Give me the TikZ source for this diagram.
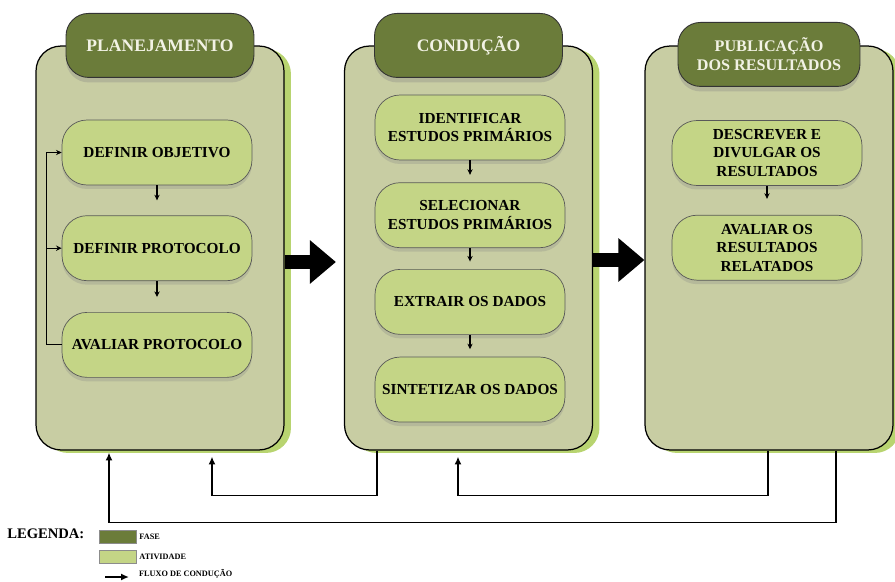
\documentclass[tikz,border=0pt]{standalone}
\usepackage{fontspec}
\setmainfont{Liberation Serif}
\usepackage{tikz}
\usetikzlibrary{positioning}
\usetikzlibrary{shadows}
\usetikzlibrary{arrows.meta}
\definecolor{fasecor}{RGB}{107,124,58}
\definecolor{fasetexto}{RGB}{242,242,228}
\definecolor{atividadecor}{RGB}{196,213,134}
\definecolor{painelcor}{RGB}{200,205,163}
\definecolor{sombracor}{RGB}{184,212,112}
\tikzset{painel node/.style={rectangle,rounded corners=0.5cm,fill=painelcor,draw=black,line width=0.7pt,minimum width=4.96cm,minimum height=8.08cm,
            general shadow={fill=sombracor,shadow xshift=0.14cm,shadow yshift=-0.06cm}},
            }
\tikzset{fase node/.style={rectangle,rounded corners=0.45cm,fill=fasecor,draw=black!80,line width=0.5pt,minimum width=3.76cm,minimum height=1.28cm,
            text=fasetexto,font=\bfseries\fontsize{10}{11.5}\selectfont,align=center,
            drop shadow={opacity=0.3,shadow xshift=0pt,shadow yshift=-0.1cm}},
            }
\tikzset{atividade node/.style={rectangle,rounded corners=0.5cm,fill=atividadecor,draw=black!65,line width=0.4pt,minimum width=3.8cm,minimum height=1.3cm,
            inner sep=2pt,font=\bfseries\fontsize{8.7}{10.6}\selectfont,align=center,
            drop shadow={opacity=0.25,shadow xshift=0pt,shadow yshift=-0.08cm}},
            }
\tikzset{fluxo/.style={-{Stealth[length=3.2pt,width=3pt]},line width=0.6pt},
            retorno/.style={-{Latex[length=4.5pt,width=4pt]},line width=0.9pt},
            grande seta/.style={line width=0.28cm,-{Triangle[length=0.52cm,width=0.84cm]}},
            legenda swatch/.style={rectangle,draw=black!45,line width=0.4pt,minimum width=0.74cm,minimum height=0.26cm,inner sep=0pt},
            legenda texto/.style={font=\bfseries\fontsize{4.7}{5.5}\selectfont,inner sep=1pt},
            }

\begin{document}
\begin{tikzpicture}[x=0.02cm,y=-0.02cm]
        \useasboundingbox (0,0) rectangle (895,581);

        % fases
        \node[painel node] (plan) at (160,248) {};
        \node[painel node] (cond) at (468.5,248) {};
        \node[painel node] (pub) at (769,248) {};
        \node[fase node] (hplan) at (plan.north) {PLANEJAMENTO};
        \node[fase node] (hcond) at (cond.north) {CONDUÇÃO};
        \node[fase node,minimum width=3.64cm,font=\bfseries\fontsize{9.2}{11}\selectfont] (hpub) [yshift=-0.18cm] at (pub.north) {PUBLICAÇÃO\\DOS RESULTADOS};

        % atividades
        \node[atividade node] (obj) at (157,152.5) {DEFINIR OBJETIVO};
        \node[atividade node] (prot) [below = 0.6cm of obj] {DEFINIR PROTOCOLO};
        \node[atividade node] (aval) [below = 0.62cm of prot] {AVALIAR PROTOCOLO};

        \node[atividade node] (ident) at (470,127.5) {IDENTIFICAR\\ESTUDOS PRIMÁRIOS};
        \node[atividade node] (selec) [below = 0.44cm of ident] {SELECIONAR\\ESTUDOS PRIMÁRIOS};
        \node[atividade node] (extr) [below = 0.42cm of selec] {EXTRAIR OS DADOS};
        \node[atividade node] (sint) [below = 0.44cm of extr] {SINTETIZAR OS DADOS};

        \node[atividade node] (desc) at (767,153) {DESCREVER E\\DIVULGAR OS\\RESULTADOS};
        \node[atividade node] (avres) [below = 0.58cm of desc] {AVALIAR OS\\RESULTADOS\\RELATADOS};

        % fluxo dentro das fases
        \path[draw,fluxo,shorten >=0.3cm]
        (obj) edge (prot)
        (prot) edge (aval);
        \path[draw,fluxo,shorten >=0.15cm]
        (ident) edge (selec)
        (selec) edge (extr)
        (extr) edge (sint);
        \draw[fluxo,shorten >=0.32cm] (desc) -- (avres);
        \draw[fluxo] (aval.west) -| ([xshift=-0.3cm]obj.west) -- (obj.west);
        \draw[fluxo] ([xshift=-0.3cm]prot.west) -- (prot.west);

        % setas entre fases
        \draw[grande seta,shorten >=0.16cm] ([yshift=-0.28cm]plan.east) -- ([yshift=-0.28cm]cond.west);
        \draw[grande seta] ([yshift=-0.24cm]cond.east) -- ([yshift=-0.24cm]pub.west);

        % retornos
        \draw[retorno,shorten >=0.12cm] ([xshift=-1.83cm]cond.south) -- ++(0,45) -| ([xshift=1.04cm]plan.south);
        \draw[retorno,shorten >=0.12cm] ([xshift=-0.02cm]pub.south) -- ++(0,45) -| ([xshift=-0.21cm]cond.south);
        \draw[retorno,shorten >=0.04cm] ([xshift=1.34cm]pub.south) -- ++(0,72) -| ([xshift=-1.02cm]plan.south);

        % legenda
        \node[font=\bfseries\fontsize{8.3}{10}\selectfont,anchor=west,inner sep=0pt] (legenda) at (7,534) {LEGENDA:};
        \node[legenda swatch,fill=fasecor] (lfase) at (117.5,537) {};
        \node[legenda swatch,fill=atividadecor] (lativ) at (117.5,556.5) {};
        \node[legenda texto,right = 0.02cm of lfase] (tfase) {FASE};
        \node[legenda texto,right = 0.02cm of lativ] (tativ) {ATIVIDADE};
        \coordinate (la) at (105,577);
        \coordinate (lb) at (129,577);
        \draw[retorno] (la) -- (lb);
        \node[legenda texto,anchor=west] (tfluxo) at (137,574) {FLUXO DE CONDUÇÃO};
      \end{tikzpicture}
\end{document}
